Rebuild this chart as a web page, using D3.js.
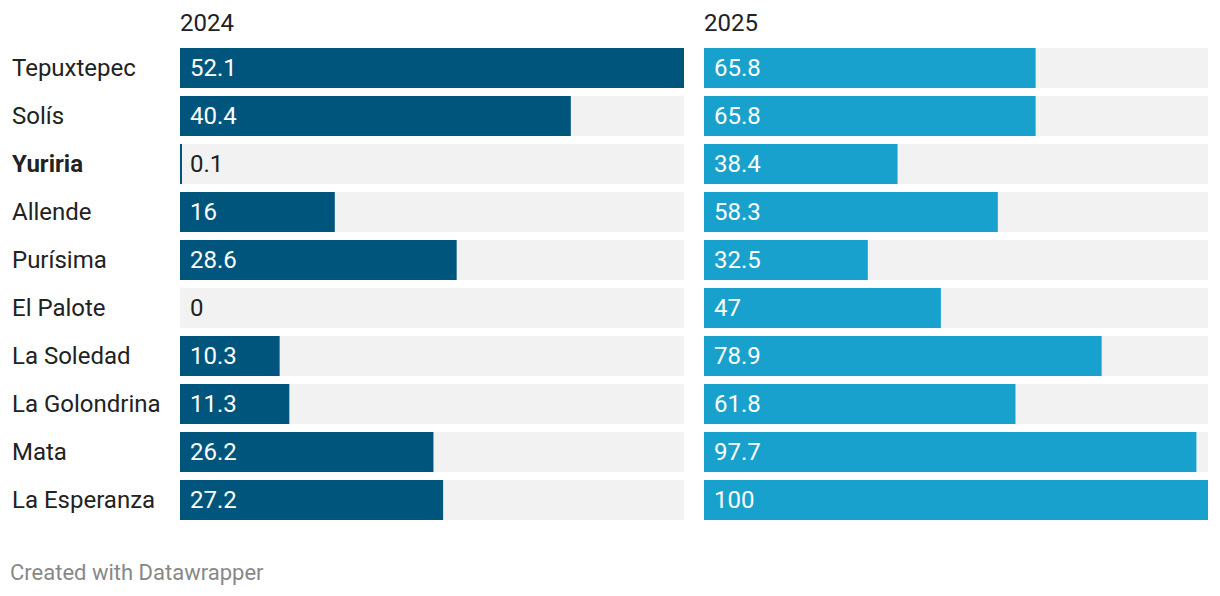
<!DOCTYPE html>
<meta charset="utf-8">
<style>
  body { margin: 0; background: #fff; font-family: Roboto, sans-serif; }
</style>
<body>
  <div id="box1"></div>
</body>
<script src="https://d3js.org/d3.v7.min.js"></script>
<script>

var categories = ["Tepuxtepec", "Solís", "Yuriria", "Allende", "Purísima", "El Palote",
                  "La Soledad", "La Golondrina", "Mata", "La Esperanza"];
var values2024 = [52.1, 40.4, 0.1, 16, 28.6, 0, 10.3, 11.3, 26.2, 27.2];
var values2025 = [65.8, 65.8, 38.4, 58.3, 32.5, 47, 78.9, 61.8, 97.7, 100];
var seriesNames = ["2024", "2025"];
var boldCategory = "Yuriria";

var width = 1220, height = 596;

var svg = d3.select("#box1").append("svg")
    .attr("width", width)
    .attr("height", height)
    .style("font-family", "Roboto, sans-serif");

// 48px step, 40px bars
var y = d3.scaleBand()
    .domain(categories)
    .range([48, 48 + 48 * categories.length - 8])
    .paddingInner(8 / 48)
    .paddingOuter(0);

var columns = [
  {name: seriesNames[0], values: values2024, x0: 180, color: "#00557c"},
  {name: seriesNames[1], values: values2025, x0: 704, color: "#19a1cd"}
];
var colWidth = 504;

// row labels
svg.append("g").selectAll("text")
  .data(categories)
  .join("text")
    .attr("x", 12)
    .attr("y", d => y(d) + y.bandwidth() / 2 + 8)
    .style("font-size", "24px")
    .style("font-weight", d => d == boldCategory ? "bold" : "normal")
    .style("fill", "#222")
    .text(d => d);

columns.forEach(function(col) {
  var x = d3.scaleLinear()
      .domain([0, d3.max(col.values)])
      .range([col.x0, col.x0 + colWidth]);

  var g = svg.append("g");

  g.append("text")
      .attr("x", col.x0)
      .attr("y", 31)
      .style("font-size", "24px")
      .style("fill", "#222")
      .text(col.name);

  var rows = categories.map((c, i) => ({cat: c, value: col.values[i]}));

  g.selectAll("rect.bg")
    .data(rows)
    .join("rect")
      .attr("class", "bg")
      .attr("x", x(0))
      .attr("y", d => y(d.cat))
      .attr("width", colWidth)
      .attr("height", y.bandwidth())
      .attr("fill", "#f2f2f2");

  g.selectAll("rect.bar")
    .data(rows)
    .join("rect")
      .attr("class", "bar")
      .attr("x", x(0))
      .attr("y", d => y(d.cat))
      .attr("width", d => d.value > 0 ? Math.max(2, x(d.value) - x(0)) : 0)
      .attr("height", y.bandwidth())
      .attr("fill", col.color);

  g.selectAll("text.val")
    .data(rows)
    .join("text")
      .attr("class", "val")
      .attr("x", x(0) + 10)
      .attr("y", d => y(d.cat) + y.bandwidth() / 2 + 8)
      .style("font-size", "24px")
      .style("fill", d => (x(d.value) - x(0)) > 50 ? "#fff" : "#222")
      .text(d => d.value);
});

svg.append("text")
    .attr("x", 10)
    .attr("y", 580)
    .style("font-size", "22px")
    .style("fill", "#888")
    .text("Created with Datawrapper");

</script>
